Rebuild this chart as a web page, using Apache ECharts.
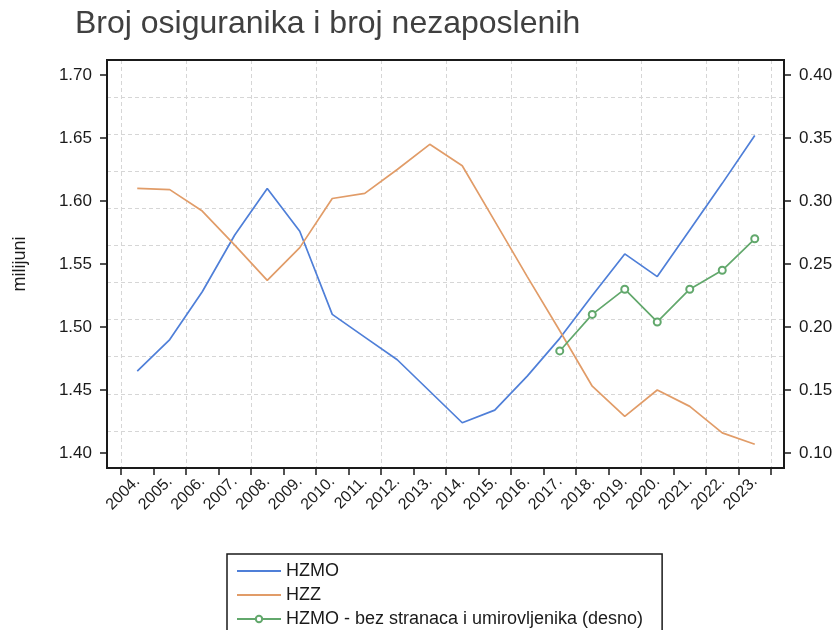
<!DOCTYPE html>
<html>
<head>
<meta charset="utf-8">
<script src="https://cdn.jsdelivr.net/npm/echarts@6/dist/echarts.min.js"></script>
<style>
  html, body { margin: 0; padding: 0; background: #fff; }
  #chart { width: 838px; height: 630px; }
</style>
</head>
<body>
<div id="chart"></div>
<script>
var years = ['2004.', '2005.', '2006.', '2007.', '2008.', '2009.', '2010.', '2011.', '2012.', '2013.',
  '2014.', '2015.', '2016.', '2017.', '2018.', '2019.', '2020.', '2021.', '2022.', '2023.'];
// milijuni, lijeva os
var hzmo = [1.465, 1.490, 1.528, 1.573, 1.610, 1.576, 1.510, 1.492, 1.474, 1.449,
  1.424, 1.434, 1.461, 1.491, 1.525, 1.558, 1.540, 1.577, 1.614, 1.652];
// milijuni, desna os
var hzz = [0.310, 0.309, 0.292, 0.265, 0.237, 0.263, 0.302, 0.306, 0.325, 0.345,
  0.328, 0.284, 0.240, 0.197, 0.153, 0.129, 0.150, 0.137, 0.116, 0.107];
var hzmoBez = [null, null, null, null, null, null, null, null, null, null,
  null, null, null, 0.181, 0.210, 0.230, 0.204, 0.230, 0.245, 0.270];

var leftTicks = [1.40, 1.70, 0.05];
var rightTicks = [0.10, 0.40, 0.05];

var font = 'Liberation Sans, Arial, sans-serif';
var gridLine = { show: true, lineStyle: { color: '#d6d6d6', width: 1, type: [4, 3] } };

var chart = echarts.init(document.getElementById('chart'));

var option = {
  backgroundColor: '#fff',
  animation: false,
  title: {
    text: 'Broj osiguranika i broj nezaposlenih',
    left: 70,
    top: 3,
    textStyle: { fontFamily: font, fontSize: 32, fontWeight: 'normal', color: '#404040' }
  },
  legend: {
    orient: 'vertical',
    left: 227,
    top: 554,
    height: 90,
    padding: [8, 19, 30, 9],
    itemWidth: 44,
    itemHeight: 8,
    itemGap: 6,
    borderColor: '#1a1a1a',
    borderWidth: 1.5,
    textStyle: { fontFamily: font, fontSize: 18, color: '#1a1a1a', lineHeight: 18 },
    data: [
      { name: 'HZMO', itemStyle: { opacity: 0 } },
      { name: 'HZZ', itemStyle: { opacity: 0 } },
      { name: 'HZMO - bez stranaca i umirovljenika (desno)' }
    ]
  },
  grid: [
    // y-axis labels
    { left: 107, right: 54, top: 75, bottom: 177 },
    // series
    { left: 121, right: 67, top: 75, bottom: 177 },
    // x-axis ticks, labels, vertical gridlines
    { left: 121, right: 67, top: 60, bottom: 162 },
    // frame + horizontal gridlines
    { left: 107, right: 54, top: 60, bottom: 162, show: true, borderColor: '#1a1a1a', borderWidth: 2, z: 5 }
  ],
  xAxis: [
    { gridIndex: 0, type: 'value', show: false },
    { gridIndex: 1, type: 'category', data: years, show: false },
    {
      gridIndex: 2, type: 'category', data: years,
      axisLine: { show: false },
      axisTick: { show: true, interval: 0, length: 7, lineStyle: { color: '#1a1a1a', width: 1.5 } },
      axisLabel: { interval: 0, rotate: 45, margin: 11, fontFamily: font, fontSize: 16, color: '#1a1a1a' },
      splitLine: Object.assign({ interval: 1 }, gridLine)
    },
    { gridIndex: 3, type: 'value', show: false }
  ],
  yAxis: [
    {
      gridIndex: 0, type: 'value', position: 'left',
      min: leftTicks[0], max: leftTicks[1], interval: leftTicks[2],
      name: 'milijuni', nameLocation: 'middle', nameRotate: 90, nameGap: 78,
      nameTextStyle: { fontFamily: font, fontSize: 18, color: '#1a1a1a' },
      axisLine: { show: true, lineStyle: { color: '#1a1a1a', width: 2 } },
      axisTick: { show: true, length: 7, lineStyle: { color: '#1a1a1a', width: 1.5 } },
      axisLabel: { margin: 15, fontFamily: font, fontSize: 17, color: '#1a1a1a',
        formatter: function (v) { return v.toFixed(2); } },
      splitLine: { show: false }
    },
    {
      gridIndex: 0, type: 'value', position: 'right',
      min: rightTicks[0], max: rightTicks[1], interval: rightTicks[2],
      axisLine: { show: true, lineStyle: { color: '#1a1a1a', width: 2 } },
      axisTick: { show: true, length: 7, lineStyle: { color: '#1a1a1a', width: 1.5 } },
      axisLabel: { margin: 15, fontFamily: font, fontSize: 17, color: '#1a1a1a',
        formatter: function (v) { return v.toFixed(2); } },
      splitLine: { show: false }
    },
    { gridIndex: 1, type: 'value', min: leftTicks[0], max: leftTicks[1], show: false },
    { gridIndex: 1, type: 'value', min: rightTicks[0], max: rightTicks[1], show: false },
    { gridIndex: 2, type: 'value', show: false, splitLine: { show: false } },
    {
      gridIndex: 3, type: 'value', min: 0, max: 11, interval: 1,
      axisLine: { show: false }, axisTick: { show: false }, axisLabel: { show: false },
      splitLine: gridLine
    }
  ],
  series: [
    {
      name: 'HZMO', type: 'line', xAxisIndex: 1, yAxisIndex: 2,
      data: hzmo, symbol: 'none',
      lineStyle: { color: '#4f7fd8', width: 1.7 }, itemStyle: { color: '#4f7fd8' }
    },
    {
      name: 'HZZ', type: 'line', xAxisIndex: 1, yAxisIndex: 3,
      data: hzz, symbol: 'none',
      lineStyle: { color: '#e19c68', width: 1.7 }, itemStyle: { color: '#e19c68' }
    },
    {
      name: 'HZMO - bez stranaca i umirovljenika (desno)', type: 'line', xAxisIndex: 1, yAxisIndex: 3,
      data: hzmoBez, symbol: 'emptyCircle', symbolSize: 7,
      lineStyle: { color: '#62a86c', width: 1.7 },
      itemStyle: { color: '#62a86c', borderColor: '#62a86c', borderWidth: 1.5 }
    }
  ]
};

chart.setOption(option);
</script>
</body>
</html>
